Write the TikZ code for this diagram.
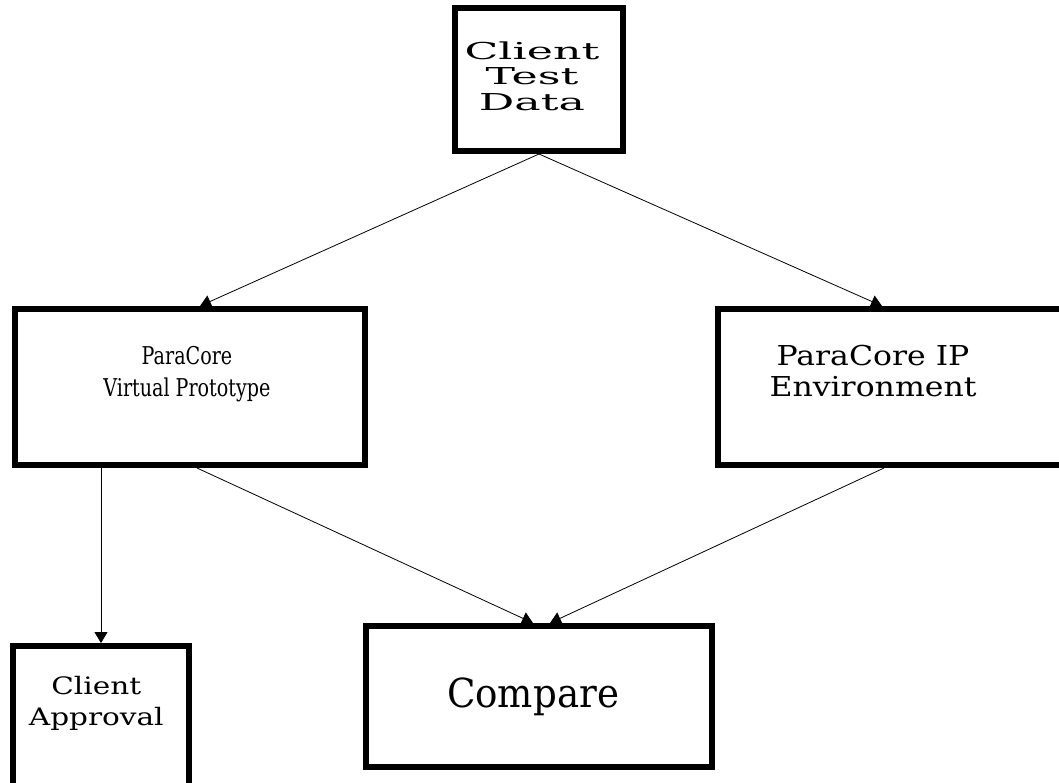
\documentclass[tikz,border=0pt]{standalone}
\usepackage{fontspec}
\setmainfont{DejaVu Serif}
% stretched and narrowed cuts of the same serif
\newfontfamily\datafont[FakeStretch=1.9]{DejaVu Serif}
\newfontfamily\protofont[FakeStretch=0.78]{DejaVu Serif}
\newfontfamily\envfont[FakeStretch=1.15]{DejaVu Serif}
\newfontfamily\approvalfont[FakeStretch=1.23]{DejaVu Serif}
\newfontfamily\comparefont[FakeStretch=0.93]{DejaVu Serif}
\usetikzlibrary{arrows.meta}
\tikzset{
    % plain boxes with a heavy black frame
    stagebox/.style={
        rectangle,
        draw=black,
        fill=white,
        line width=6pt,
        inner sep=0pt,
        align=center
    },
    arrow/.style={
        -{Triangle[width=13pt,length=11pt]},
        line width=0.8pt,
        color=black
    }
}

\begin{document}
\begin{tikzpicture}[x=1pt, y=-1pt]
    \useasboundingbox (0,0) rectangle (1059,782);

    % Client Test Data
    \node[stagebox, minimum width=168pt, minimum height=143pt] (data) at (539,79.5) {
        \datafont\fontsize{23.3}{25.5}\selectfont
        \begin{tabular}{@{}c@{}}Client\\Test\\Data\end{tabular}
    };

    % Virtual Prototype
    \node[stagebox, minimum width=350pt, minimum height=156pt] (proto) at (190,387) {
        \protofont\fontsize{24.5}{32}\selectfont
        \raisebox{6.3pt}[0pt][0pt]{\begin{tabular}{@{}c@{}}ParaCore\\Virtual Prototype\end{tabular}}
    };

    % IP Environment
    \node[stagebox, minimum width=350pt, minimum height=156pt] (env) at (893,387) {
        \envfont\fontsize{27.4}{31}\selectfont
        \raisebox{5.9pt}[0pt][0pt]{\begin{tabular}{@{}c@{}}ParaCore IP\\Environment\end{tabular}}\hspace*{30pt}
    };

    % Client Approval
    \node[stagebox, minimum width=176pt, minimum height=200pt] (approval) at (101,746) {
        \approvalfont\fontsize{24}{31}\selectfont
        \raisebox{36pt}[0pt][0pt]{\begin{tabular}{@{}c@{}}Client\\Approval\end{tabular}}
    };

    % Compare
    \node[stagebox, minimum width=346pt, minimum height=141pt] (compare) at (539,696.5) {
        \comparefont\fontsize{40}{48}\selectfont Compare
    };

    % Arrows
    \draw[arrow] (data.south) -- ([xshift=10pt]proto.north);
    \draw[arrow] (data.south) -- ([xshift=-11pt]env.north);
    \draw[arrow] (proto.south -| approval.north) -- (approval.north);
    \draw[arrow] ([xshift=7pt]proto.south) -- ([xshift=-6pt]compare.north);
    \draw[arrow] ([xshift=-9pt]env.south) -- ([xshift=11pt]compare.north);
\end{tikzpicture}
\end{document}
